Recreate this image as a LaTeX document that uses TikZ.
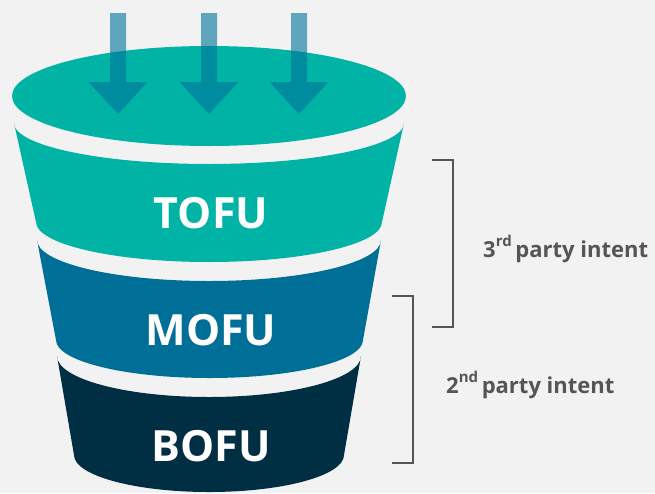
\documentclass[tikz,border=0pt]{standalone}
\usepackage{fontspec}
\setmainfont{Open Sans}
\begin{document}
\begin{tikzpicture}[x=1pt,y=-1pt,
  bandlabel/.style={text=white,font=\fontsize{43}{43}\selectfont\bfseries,inner sep=0pt,anchor=center},
  sidelabel/.style={text=labelgray,font=\fontsize{22}{22}\selectfont\bfseries,inner sep=0pt,anchor=base west},
  bracketline/.style={draw=labelgray,line width=2pt},
  arrowshape/.style={fill=arrowblue,fill opacity=0.6,draw=none}]
\definecolor{bg}{HTML}{F2F2F2}
\definecolor{teal}{HTML}{00B3A5}
\definecolor{mofu}{HTML}{006F97}
\definecolor{bofu}{HTML}{002E42}
\definecolor{arrowblue}{HTML}{00729C}
\definecolor{labelgray}{HTML}{555555}
\fill[bg] (0,0) rectangle (655,493);
\useasboundingbox (0,0) rectangle (655,493);
% top ellipse
\fill[teal] (209,96) ellipse [x radius=197, y radius=50];
% TOFU band
\fill[teal] (14,123) -- (36,222) arc[start angle=180,end angle=0,x radius=173,y radius=40]
  -- (404,123) arc[start angle=0,end angle=180,x radius=195,y radius=41] -- cycle;
% MOFU band
\fill[mofu] (37,240) -- (56,340) arc[start angle=180,end angle=0,x radius=153.5,y radius=38]
  -- (381,240) arc[start angle=0,end angle=180,x radius=172,y radius=41] -- cycle;
% BOFU band
\fill[bofu] (57,356) -- (74,455) arc[start angle=180,end angle=0,x radius=135,y radius=37]
  -- (361,356) arc[start angle=0,end angle=180,x radius=152,y radius=41] -- cycle;
% arrows
\foreach \cx in {118,209,299}{
  \fill[arrowshape] (\cx-8,13) -- (\cx+8,13) -- (\cx+8,82) -- (\cx+29.5,82) -- (\cx,114)
    -- (\cx-29.5,82) -- (\cx-8,82) -- cycle;
}
% labels
\node[bandlabel] (tofu) at (211,213) {TOFU};
\node[bandlabel] (mofu) at (211,330) {MOFU};
\node[bandlabel] (bofu) at (211,446) {BOFU};
% brackets
\draw[bracketline] (432,160) -- (453,160) -- (453,327) -- (432,327);
\draw[bracketline] (392,296) -- (413,296) -- (413,463) -- (392,463);
\node[sidelabel] (third) at (483,257) {3\raisebox{0.5em}{\fontsize{15}{15}\selectfont rd}\,party intent};
\node[sidelabel] (second) at (446,393) {2\raisebox{0.5em}{\fontsize{15}{15}\selectfont nd}\,party intent};
\end{tikzpicture}
\end{document}
